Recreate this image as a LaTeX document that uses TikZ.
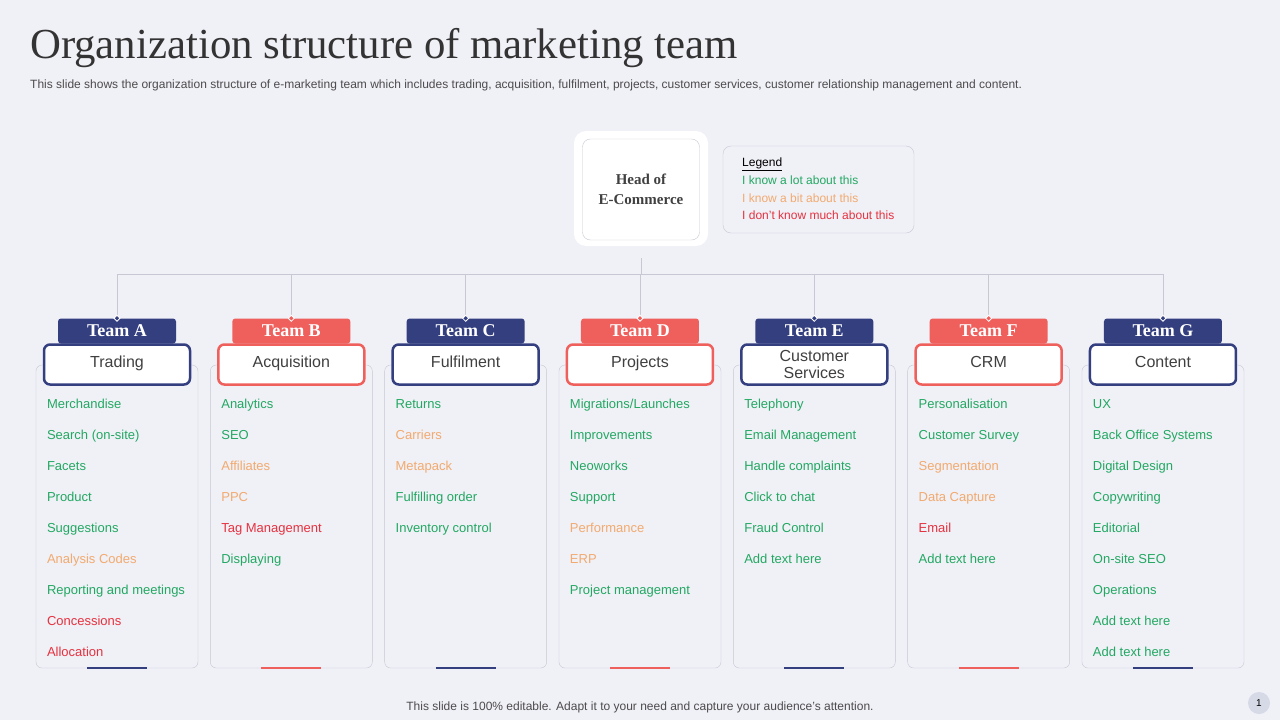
\documentclass[tikz,border=0pt]{standalone}
\usepackage{fontspec}
\setmainfont{Liberation Sans}
\newfontfamily\titlefont{Liberation Serif}
\definecolor{bgc}{HTML}{F0F0F7}
\definecolor{navy}{HTML}{343F80}
\definecolor{coral}{HTML}{EF605D}
\definecolor{g}{HTML}{22A862}
\definecolor{o}{HTML}{F2AA6E}
\definecolor{r}{HTML}{E5323F}
\definecolor{linec}{HTML}{C8C8D4}
\tikzset{
  tab/.style={fill=#1,rounded corners=3pt,minimum width=118pt,minimum height=25pt,inner sep=0pt,text=white,font=\titlefont\bfseries\fontsize{18}{18}\selectfont},
  titlebox/.style={draw=#1,line width=2.5pt,fill=white,rounded corners=6pt,minimum width=146pt,minimum height=40pt,inner sep=0pt,align=center,text=black!75,font=\fontsize{16}{17}\selectfont},
  card/.style={draw=linec,rounded corners=6pt,minimum width=162pt,minimum height=303pt,inner sep=0pt},
  item/.style={anchor=base west,inner sep=0pt,font=\fontsize{13}{14}\selectfont},
  conn/.style={draw=linec,line width=0.8pt}
}
\begin{document}
\begin{tikzpicture}[x=1pt,y=-1pt]
  \fill[bgc] (0,0) rectangle (1280,720);
  \node[anchor=west,inner sep=0pt,font=\titlefont\fontsize{42.8}{43}\selectfont,text=black!80] (title) at (30,48) {Organization structure of marketing team};
  \node[anchor=west,inner sep=0pt,font=\fontsize{12}{12}\selectfont,text=black!70] (sub) at (30,85) {This slide shows the organization structure of e-marketing team which includes trading, acquisition, fulfilment, projects, customer services, customer relationship management and content.};
  % head and legend
  \node[fill=white,rounded corners=12pt,minimum width=134pt,minimum height=115pt] (headbg) at (641,188.5) {};
  \node[draw=linec,fill=white,rounded corners=8pt,minimum width=117pt,minimum height=101pt,align=center,font=\titlefont\bfseries\fontsize{15}{20}\selectfont,text=black!75] (head) at (641,189.5) {Head of\\E-Commerce};
  \node[draw=linec,rounded corners=8pt,minimum width=191pt,minimum height=87pt] (legend) at (818.5,189.5) {};
  \node[item,font=\fontsize{12}{12}\selectfont] (lg0) at (742,166) {\underline{Legend}};
  \node[item,font=\fontsize{12}{12}\selectfont,text=g] (lg1) at (742,184) {I know a lot about this};
  \node[item,font=\fontsize{12}{12}\selectfont,text=o] (lg2) at (742,202) {I know a bit about this};
  \node[item,font=\fontsize{12}{12}\selectfont,text=r] (lg3) at (742,219) {I don't know much about this};
  \coordinate (busL) at (117,274);
  \coordinate (busR) at (1163,274);
  \draw[conn] (busL) -- (busR);
  % teams
  \foreach \i/\nm/\col/\ttl in {0/A/navy/Trading,1/B/coral/Acquisition,2/C/navy/Fulfilment,3/D/coral/Projects,4/E/navy/{Customer\\Services},5/F/coral/CRM,6/G/navy/Content}{
    \pgfmathsetmacro{\cx}{117+174.33*\i}
    \node[card] (card\nm) at (\cx,516.5) {};
    \draw[\col,line width=2pt] ([xshift=-30pt]card\nm.south) -- ([xshift=30pt]card\nm.south);
    \node[tab=\col] (tab\nm) at (\cx,331) {Team \nm};
    \node[titlebox=\col] (box\nm) at (\cx,364.5) {\strut\ttl};
    \draw[conn] (\cx,274) -- (tab\nm.north);
    \filldraw[draw=white,fill=\col,line width=0.8pt] (tab\nm.north) ++(0,-3) -- ++(3,3) -- ++(-3,3) -- ++(-3,-3) -- cycle;
  }
  \draw[conn] ([yshift=-12pt]headbg.south) -- (busL -| head.south);
  % items
  \foreach \nm/\lst in {A/{g/Merchandise,g/Search (on-site),g/Facets,g/Product,g/Suggestions,o/Analysis Codes,g/Reporting and meetings,r/Concessions,r/Allocation},
    B/{g/Analytics,g/SEO,o/Affiliates,o/PPC,r/Tag Management,g/Displaying},
    C/{g/Returns,o/Carriers,o/Metapack,g/Fulfilling order,g/Inventory  control},
    D/{g/{Migrations/Launches},g/Improvements,g/Neoworks,g/Support,o/Performance,o/ERP,g/Project management},
    E/{g/Telephony,g/Email Management,g/Handle  complaints,g/Click to chat,g/Fraud Control,g/Add text here},
    F/{g/Personalisation,g/Customer Survey,o/Segmentation,o/Data Capture,r/Email,g/Add text here},
    G/{g/UX,g/Back Office Systems,g/Digital Design,g/Copywriting,g/Editorial,g/On-site SEO,g/Operations,g/Add text here,g/Add text here}}{
    \foreach \c/\t [count=\k from 0] in \lst {
      \node[item,text=\c] (it\nm\k) at ([xshift=11pt,yshift=-44pt-31*\k]card\nm.north west) {\t};
    }
  }
  \node[font=\fontsize{12}{12}\selectfont,text=black!70] (foot) at (640,707) {This slide is 100\% editable. Adapt it to your need and capture your audience's attention.};
  \node[circle,fill=navy!20,minimum size=22pt,inner sep=0pt,font=\fontsize{10}{10}\selectfont] (pg) at (1259,703) {1};
\end{tikzpicture}
\end{document}
